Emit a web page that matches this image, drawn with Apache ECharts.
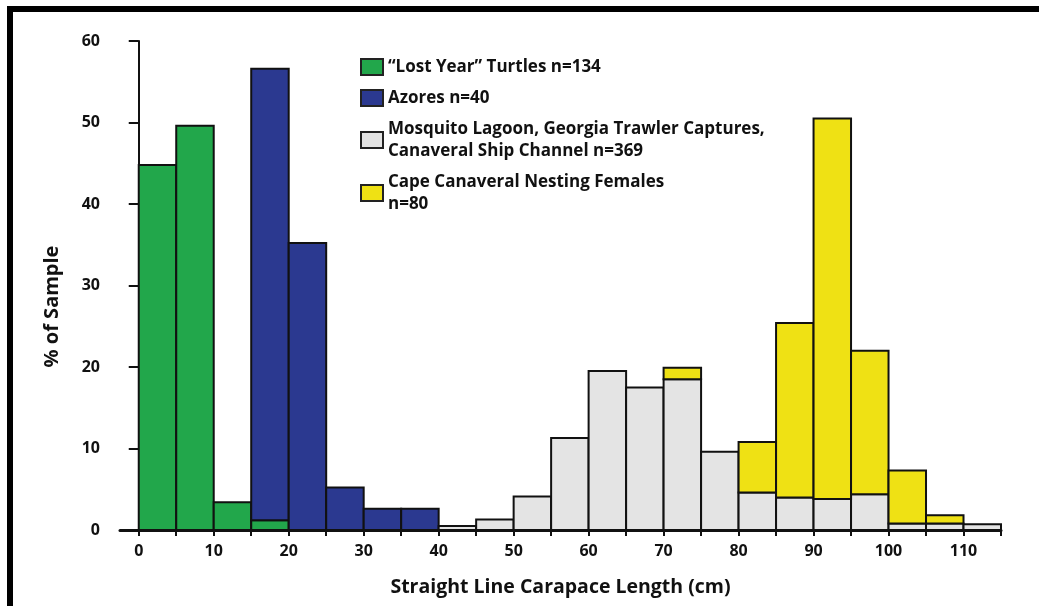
<!DOCTYPE html>
<html>
<head>
<meta charset="utf-8">
<script src="https://cdn.jsdelivr.net/npm/echarts@6/dist/echarts.min.js"></script>
<style>
  html, body { margin: 0; padding: 0; background: #fff; }
  #chart { width: 1039px; height: 606px; }
</style>
</head>
<body>
<div id="chart"></div>
<script>
// 5 cm bins, start of each bin
const binStarts = [0, 5, 10, 15, 20, 25, 30, 35, 40, 45, 50, 55, 60, 65, 70, 75, 80, 85, 90, 95, 100, 105, 110]
const binWidth = 5

// % of sample per bin (stacked: blue on green, yellow on gray)
const lostYear = [44.8, 49.6, 3.4, 1.2, 0, 0, 0, 0, 0, 0, 0, 0, 0, 0, 0, 0, 0, 0, 0, 0, 0, 0, 0]
const azores = [0, 0, 0, 55.4, 35.2, 5.2, 2.6, 2.6, 0, 0, 0, 0, 0, 0, 0, 0, 0, 0, 0, 0, 0, 0, 0]
const mosquito = [0, 0, 0, 0, 0, 0, 0, 0, 0.5, 1.3, 4.1, 11.3, 19.5, 17.5, 18.5, 9.6, 4.6, 4.0, 3.8, 4.4, 0.8, 0.8, 0.7]
const capeCanaveral = [0, 0, 0, 0, 0, 0, 0, 0, 0, 0, 0, 0, 0, 0, 1.4, 0, 6.2, 21.4, 46.7, 17.6, 6.5, 1.0, 0]

const seriesNames = [
  '\u201cLost Year\u201d Turtles n=134',
  'Azores n=40',
  'Mosquito Lagoon, Georgia Trawler Captures,\nCanaveral Ship Channel n=369',
  'Cape Canaveral Nesting Females\nn=80'
]
const seriesColors = ['#22a74b', '#2b3990', '#e4e4e4', '#efe114']

const xTicks = [0, 5, 10, 15, 20, 25, 30, 35, 40, 45, 50, 55, 60, 65, 70, 75, 80, 85, 90, 95, 100, 105, 110, 115]
const xLabels = [0, 10, 20, 30, 40, 50, 60, 70, 80, 90, 100, 110]

const font = '"Open Sans", "DejaVu Sans", sans-serif'

// build stacked rectangles [start, end, base, top]
const allValues = [lostYear, azores, mosquito, capeCanaveral]
const bases = binStarts.map(() => 0)
const stackedData = allValues.map(values => {
  const rows = []
  values.forEach((v, i) => {
    if (v > 0) {
      rows.push([binStarts[i], binStarts[i] + binWidth, bases[i], bases[i] + v])
      bases[i] += v
    }
  })
  return rows
})

function renderBin(params, api) {
  const p0 = api.coord([api.value(0), api.value(2)])
  const p1 = api.coord([api.value(1), api.value(3)])
  return {
    type: 'rect',
    shape: { x: p0[0], y: p1[1], width: p1[0] - p0[0], height: p0[1] - p1[1] },
    style: { fill: api.visual('color'), stroke: '#111', lineWidth: 2 }
  }
}

const chart = echarts.init(document.getElementById('chart'))
chart.setOption({
  animation: false,
  backgroundColor: '#fff',
  color: seriesColors,
  graphic: [
    { type: 'rect', shape: { x: 7, y: 6, width: 1032, height: 6 }, style: { fill: '#000' } },
    { type: 'rect', shape: { x: 7, y: 6, width: 6, height: 600 }, style: { fill: '#000' } }
  ],
  legend: {
    left: 360,
    top: 56,
    padding: 0,
    orient: 'vertical',
    itemWidth: 22,
    itemHeight: 16,
    itemGap: 9,
    icon: 'rect',
    selectedMode: false,
    itemStyle: { borderColor: '#222', borderWidth: 2 },
    textStyle: {
      fontFamily: font,
      fontWeight: 'bold',
      fontSize: 17,
      lineHeight: 22,
      color: '#111'
    },
    data: seriesNames
  },
  grid: {
    left: 120,
    right: 38,
    top: 41,
    bottom: 76
  },
  xAxis: {
    type: 'value',
    min: -2.5,
    max: 115,
    name: 'Straight Line Carapace Length (cm)',
    nameLocation: 'middle',
    nameGap: 47,
    nameTextStyle: { fontFamily: font, fontWeight: 'bold', fontSize: 19.5, color: '#111' },
    axisLine: { show: true, lineStyle: { color: '#111', width: 3 } },
    axisTick: { show: true, length: 6, customValues: xTicks, lineStyle: { color: '#111', width: 2 } },
    axisLabel: { customValues: xLabels, margin: 13, fontFamily: font, fontWeight: 'bold', fontSize: 16, color: '#111' },
    splitLine: { show: false }
  },
  yAxis: {
    type: 'value',
    min: 0,
    max: 60,
    interval: 10,
    name: '% of Sample',
    nameLocation: 'middle',
    nameGap: 58,
    nameTextStyle: { fontFamily: font, fontWeight: 'bold', fontSize: 20, color: '#111', padding: [0, 42, 0, 0] },
    axisLine: { show: true, lineStyle: { color: '#111', width: 2 } },
    axisTick: { show: true, length: 10, lineStyle: { color: '#111', width: 2 } },
    axisLabel: { margin: 20, fontFamily: font, fontWeight: 'bold', fontSize: 16, color: '#111' },
    splitLine: { show: false }
  },
  series: seriesNames.map((name, k) => ({
    type: 'custom',
    name: name,
    renderItem: renderBin,
    itemStyle: { color: seriesColors[k], borderColor: '#222', borderWidth: 2 },
    encode: { x: [0, 1], y: [2, 3] },
    data: stackedData[k],
    z: 2 + k
  }))
})
</script>
</body>
</html>
